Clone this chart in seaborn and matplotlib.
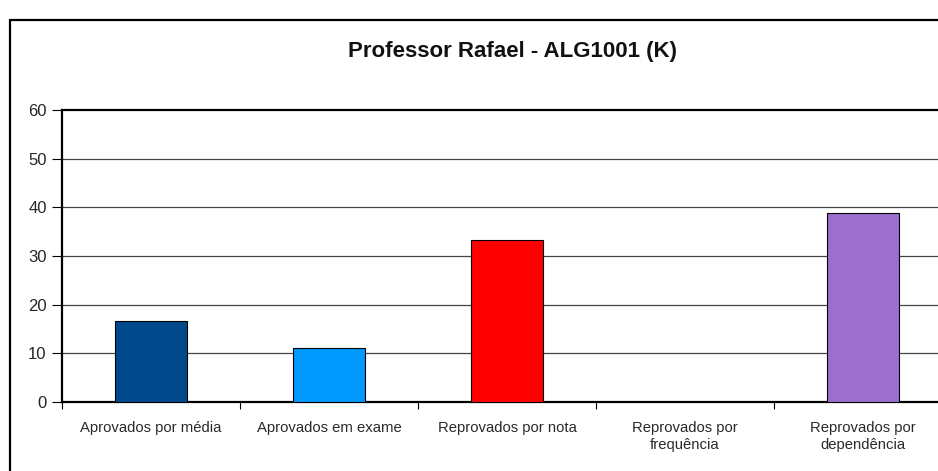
import matplotlib
matplotlib.use('Agg')
import matplotlib.pyplot as plt
from matplotlib.lines import Line2D
import seaborn as sns
import pandas as pd
import numpy as np

categorias = ['Aprovados por média', 'Aprovados em exame', 'Reprovados por nota',
              'Reprovados por\nfrequência', 'Reprovados por\ndependência']
percentuais = [16.67, 11.11, 33.33, 0.0, 38.89]
cores = ['#004A8C', '#0099FF', '#FF0000', '#3366CC', '#9C6FCF']
yticks = [0, 10, 20, 30, 40, 50, 60]

df = pd.DataFrame({'categoria': categorias, 'valor': percentuais})

sns.set_style('white')
plt.rcParams['font.family'] = ['Liberation Sans', 'DejaVu Sans']

W, H = 938, 471
fig = plt.figure(figsize=(W / 100, H / 100), dpi=100)
ax = fig.add_axes([62 / W, (H - 402) / H, (952 - 62) / W, (402 - 110) / H])

sns.barplot(data=df, x='categoria', y='valor', hue='categoria', palette=cores,
            saturation=1, width=0.4, edgecolor='black', linewidth=0.8,
            legend=False, ax=ax, zorder=3)

ax.set_xlim(-0.5, 4.5)
ax.set_ylim(0, 60)
ax.set_yticks(yticks)
ax.set_yticklabels([str(t) for t in yticks], fontsize=12)
ax.tick_params(axis='y', direction='out', length=7, width=0.8, color='black', pad=4, left=True)
ax.tick_params(axis='x', length=0, labelsize=10.7, pad=14)
for lab in ax.get_xticklabels():
    lab.set_color('#2a2a2a')
ax.set_xticks(np.arange(-0.5, 5.0, 1.0), minor=True)
ax.tick_params(axis='x', which='minor', direction='out', length=5, width=0.8, color='black', bottom=True)
ax.set_xlabel('')
ax.set_ylabel('')

for t in yticks[1:-1]:
    ax.axhline(t, color='#444444', linewidth=0.9, zorder=1)

for side in ['left', 'bottom', 'top']:
    ax.spines[side].set_visible(True)
    ax.spines[side].set_color('black')
    ax.spines[side].set_linewidth(1.6)
ax.spines['right'].set_visible(False)

# moldura do gráfico
fig.add_artist(Line2D([10 / W, 10 / W], [0, (H - 20) / H], color='black', linewidth=1.6))
fig.add_artist(Line2D([10 / W, 1], [(H - 20) / H, (H - 20) / H], color='black', linewidth=1.6))

fig.text(512 / W, (H - 52) / H, 'Professor Rafael - ALG1001 (K)', ha='center', va='center',
         fontsize=16, fontweight='bold', color='#111111')

fig.savefig('out.png', dpi=100, facecolor='white')
